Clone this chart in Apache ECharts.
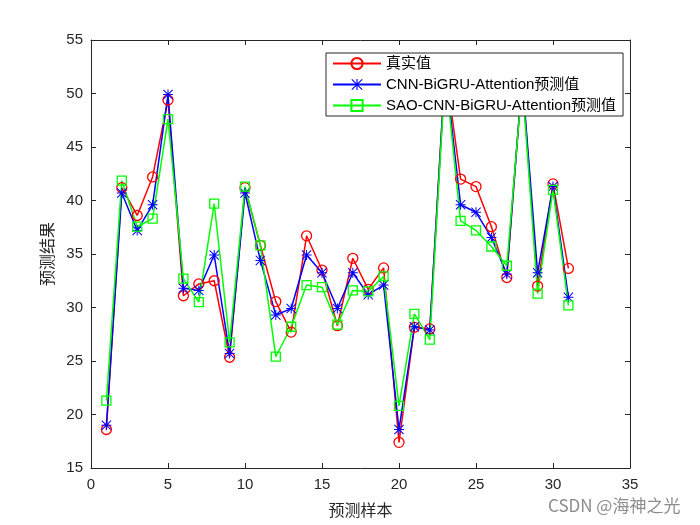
<!DOCTYPE html>
<html><head><meta charset="utf-8">
<script src="https://cdn.jsdelivr.net/npm/echarts@6/dist/echarts.min.js"></script>
<style>html,body{margin:0;padding:0;background:#fff}#c{width:700px;height:525px}</style>
</head><body><div id="c"></div>
<script>
const samples = [1,2,3,4,5,6,7,8,9,10,11,12,13,14,15,16,17,18,19,20,21,22,23,24,25,26,27,28,29,30,31];
const realVals = [18.6,41.2,38.6,42.2,49.4,31.1,32.2,32.5,25.35,41.2,35.8,30.55,27.7,36.7,33.5,28.3,34.6,31.7,33.7,17.4,28.15,28.0,52.5,42.0,41.3,37.55,32.8,51.5,32.0,41.55,33.65];
const cnnVals = [19.0,40.7,37.2,39.6,49.9,31.8,31.6,34.9,25.7,40.7,34.4,29.3,29.9,34.9,33.25,29.9,33.25,31.2,32.1,18.6,28.2,27.9,52.3,39.6,38.9,36.55,33.1,51.5,33.25,41.3,30.95];
const saoVals = [21.3,41.85,37.55,38.3,47.6,32.7,30.5,39.7,26.75,41.3,35.8,25.4,28.2,32.1,31.9,28.4,31.6,31.5,32.9,20.8,29.4,27.0,52.0,38.1,37.2,35.7,33.9,51.0,31.3,41.0,30.2];
const xTicks = [0,5,10,15,20,25,30,35];
const yTicks = [15,20,25,30,35,40,45,50,55];
const names = ['真实值','CNN-BiGRU-Attention预测值','SAO-CNN-BiGRU-Attention预测值'];

const star = 'path://M9 0 L11 0 L11 20 L9 20 Z M0 9 L20 9 L20 11 L0 11 Z M1.4 0 L20 18.6 L18.6 20 L0 1.4 Z M18.6 0 L20 1.4 L1.4 20 L0 18.6 Z';
const pair = arr => samples.map((s,i)=>[s,arr[i]]);
const axColor = '#262626';
const labelFont = {fontFamily:'Liberation Sans, Arial, sans-serif', fontSize:15, color:axColor};
const cjk = "'Noto Sans CJK SC', sans-serif";

function xAx(pos, show){
  return {type:'value', position:pos, min:xTicks[0], max:xTicks[xTicks.length-1], interval:5,
    axisLine:{show:true,onZero:false,lineStyle:{color:axColor,width:1}},
    axisTick:{show:true,inside:true,length:5,lineStyle:{color:axColor}},
    axisLabel:Object.assign({show:show,margin:9}, labelFont),
    splitLine:{show:false},
    name: show ? '预测样本' : '', nameLocation:'middle', nameGap:34,
    nameTextStyle:{fontFamily:cjk,fontSize:16,color:axColor}};
}
function yAx(pos, show){
  return {type:'value', position:pos, min:yTicks[0], max:yTicks[yTicks.length-1], interval:5,
    axisLine:{show:true,onZero:false,lineStyle:{color:axColor,width:1}},
    axisTick:{show:true,inside:true,length:5,lineStyle:{color:axColor}},
    axisLabel:Object.assign({show:show,margin:8}, labelFont),
    splitLine:{show:false},
    name: show ? '预测结果' : '', nameLocation:'middle', nameGap:35,
    nameTextStyle:{fontFamily:cjk,fontSize:16,color:axColor}};
}

const chart = echarts.init(document.getElementById('c'), null, {renderer:'canvas'});
chart.setOption({
  animation:false,
  backgroundColor:'#fff',
  grid:{left:91,right:70,top:40,bottom:57,containLabel:false},
  xAxis:[xAx('bottom',true), xAx('top',false)],
  yAxis:[yAx('left',true), yAx('right',false)],
  legend:{
    orient:'vertical', left:326, top:53,
    backgroundColor:'#fff', borderColor:'#262626', borderWidth:1, borderRadius:0,
    padding:[3,7,3,6], itemGap:6, itemWidth:48, itemHeight:14,
    textStyle:{fontFamily:"'Liberation Sans', 'Noto Sans CJK SC', sans-serif",fontSize:15,color:'#000'},
    data:names
  },
  series:[
    {name:names[0], type:'line', data:pair(realVals), symbol:'circle', symbolSize:10,
     lineStyle:{color:'#ff0000',width:1.5}, itemStyle:{color:'rgba(255,255,255,0)',borderColor:'#ff0000',borderWidth:1.3}},
    {name:names[1], type:'line', data:pair(cnnVals), symbol:star, symbolSize:10,
     lineStyle:{color:'#0000ff',width:1.5}, itemStyle:{color:'#0000ff'}},
    {name:names[2], type:'line', data:pair(saoVals), symbol:'rect', symbolSize:9,
     lineStyle:{color:'#00ff00',width:1.5}, itemStyle:{color:'rgba(255,255,255,0)',borderColor:'#00ff00',borderWidth:1.3}}
  ],
  graphic:[{type:'text', left:548, top:497, style:{text:'CSDN @海神之光', fill:'#8c8c8c', font:"17px 'Noto Sans CJK SC', sans-serif"}}]
});
</script></body></html>
